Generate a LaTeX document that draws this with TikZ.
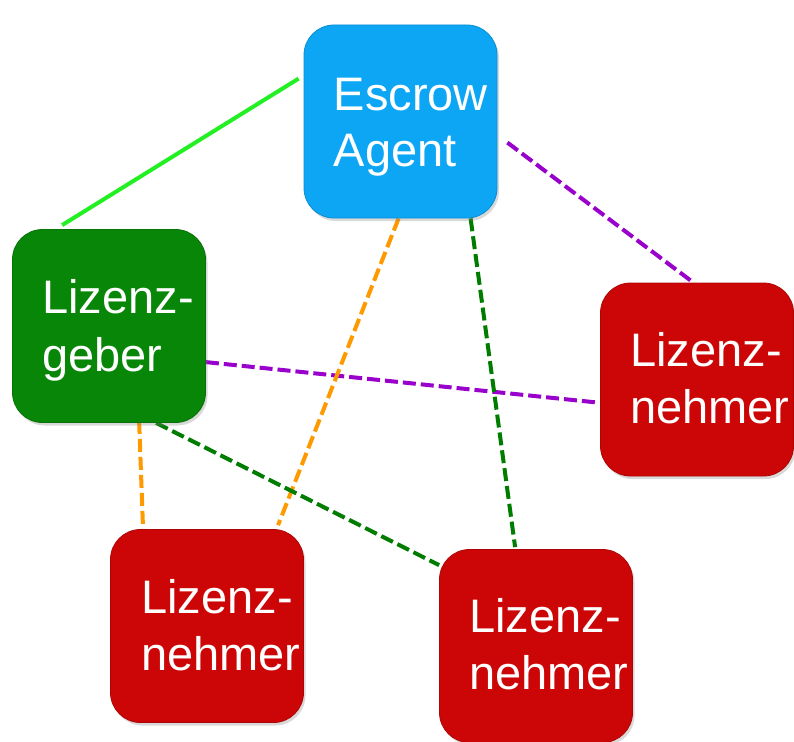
\documentclass[tikz,border=0pt]{standalone}
\usepackage{fontspec}
\setmainfont{Liberation Sans}
\usetikzlibrary{calc,backgrounds,shadows}
\definecolor{eblue}{RGB}{12,166,245}
\definecolor{lgreen}{RGB}{8,134,8}
\definecolor{lred}{RGB}{204,6,6}
\definecolor{cbright}{RGB}{34,240,34}
\definecolor{cpurple}{RGB}{153,0,204}
\definecolor{corange}{RGB}{255,153,0}
\definecolor{cdark}{RGB}{0,125,0}
\begin{document}
\begin{tikzpicture}[x=1pt,y=-1pt,
  box/.style={rectangle, rounded corners=30pt, minimum width=193pt, minimum height=193pt,
    inner sep=0pt, draw=#1!85!black, line width=0.8pt, fill=#1,
    drop shadow={shadow xshift=2pt,shadow yshift=-3pt,opacity=0.3}},
  lbl/.style={anchor=base west, text=white, inner sep=0pt, font=\fontsize{47}{57}\selectfont},
  conn/.style={line width=4pt},
  dsh/.style={conn, dash pattern=on 13pt off 5pt}]
\useasboundingbox (0,0) rectangle (794,741);
% boxes
\node[box=eblue] (ea) at (400.5,121.5) {};
\node[box=lgreen] (lg) at (109,326) {};
\node[box=lred] (rn) at (697,379.5) {};
\node[box=lred] (bl) at (207,626) {};
\node[box=lred] (br) at (536,646) {};
% labels
\node[lbl] (ea1) at ($(ea.north west)+(30,86)$) {Escrow};
\node[lbl] (ea2) at ($(ea.north west)+(30,142)$) {Agent};
\node[lbl] (lg1) at ($(lg.north west)+(30,84)$) {Lizenz-};
\node[lbl] (lg2) at ($(lg.north west)+(30,142)$) {geber};
\node[lbl] (rn1) at ($(rn.north west)+(30,84)$) {Lizenz-};
\node[lbl] (rn2) at ($(rn.north west)+(30,141)$) {nehmer};
\node[lbl] (bl1) at ($(bl.north west)+(31,84)$) {Lizenz-};
\node[lbl] (bl2) at ($(bl.north west)+(31,141)$) {nehmer};
\node[lbl] (br1) at ($(br.north west)+(30,83)$) {Lizenz-};
\node[lbl] (br2) at ($(br.north west)+(30,140)$) {nehmer};
% connectors
\begin{pgfonlayer}{background}
\draw[conn, cbright] ($(lg.north west)+(50,-4)$) -- ($(ea.north west)+(-5,54)$);
\draw[dsh, cpurple] ($(ea.north east)+(10,118)$) -- ($(rn.north west)+(92,-1)$);
\draw[dsh, cpurple] ($(lg.north east)+(0,133)$) -- ($(rn.north west)+(-2,120)$);
\draw[dsh, corange] ($(ea.south west)+(95,0)$) -- ($(bl.north west)+(168,-4)$);
\draw[dsh, cdark] ($(ea.south west)+(167,0)$) -- ($(br.north west)+(76,-2)$);
\draw[dsh, corange] ($(lg.south west)+(127,-2)$) -- ($(bl.north west)+(33,1)$);
\draw[dsh, cdark] ($(lg.south west)+(144,0)$) -- ($(br.north west)+(0,16)$);
\end{pgfonlayer}
\end{tikzpicture}
\end{document}
